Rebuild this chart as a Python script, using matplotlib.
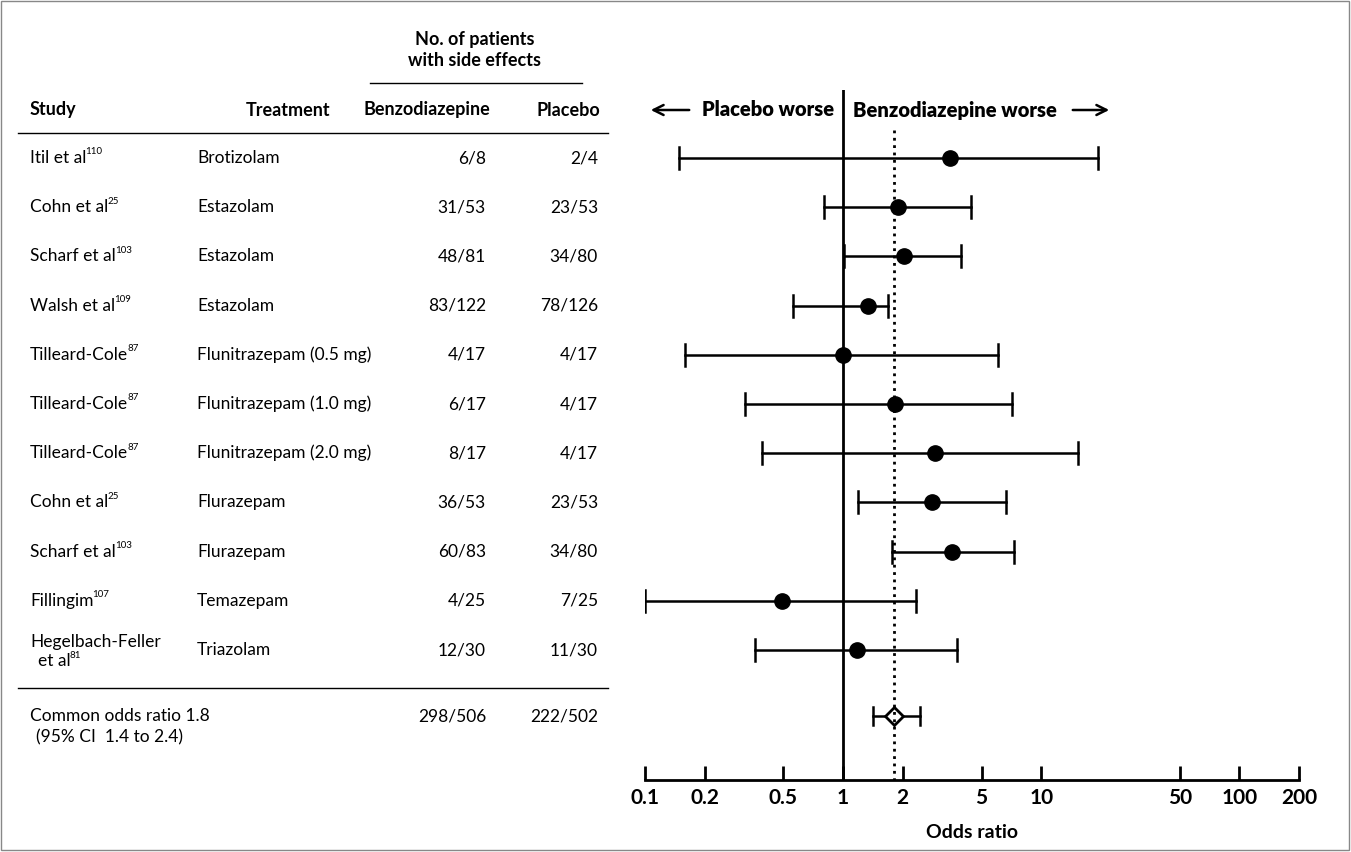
import matplotlib.pyplot as plt
import numpy as np

plt.rcParams['font.family'] = ['Lato', 'DejaVu Sans']

studies = ["Itil et al", "Cohn et al", "Scharf et al", "Walsh et al", "Tilleard-Cole",
           "Tilleard-Cole", "Tilleard-Cole", "Cohn et al", "Scharf et al", "Fillingim",
           "Hegelbach-Feller"]
refs = ["110", "25", "103", "109", "87", "87", "87", "25", "103", "107", "81"]
treatments = ["Brotizolam", "Estazolam", "Estazolam", "Estazolam", "Flunitrazepam (0.5 mg)",
              "Flunitrazepam (1.0 mg)", "Flunitrazepam (2.0 mg)", "Flurazepam", "Flurazepam",
              "Temazepam", "Triazolam"]
benzo = ["6/8", "31/53", "48/81", "83/122", "4/17", "6/17", "8/17", "36/53", "60/83", "4/25", "12/30"]
placebo = ["2/4", "23/53", "34/80", "78/126", "4/17", "4/17", "4/17", "23/53", "34/80", "7/25", "11/30"]
odds = [3.47, 1.90, 2.03, 1.34, 1.0, 1.83, 2.92, 2.81, 3.55, 0.49, 1.18]
lower = [0.149, 0.80, 1.01, 0.56, 0.16, 0.32, 0.39, 1.19, 1.77, 0.10, 0.36]
upper = [19.4, 4.43, 3.93, 1.69, 6.07, 7.14, 15.4, 6.65, 7.3, 2.34, 3.77]
common_or, common_lo, common_hi = 1.8, 1.42, 2.45
ticks = [0.1, 0.2, 0.5, 1, 2, 5, 10, 50, 100, 200]

W, H = 1351, 852
fig = plt.figure(figsize=(W / 100, H / 100), dpi=100)

# full-figure pixel axes for the table
bg = fig.add_axes([0, 0, 1, 1])
bg.set_xlim(0, W)
bg.set_ylim(H, 0)
bg.axis('off')
bg.add_patch(plt.Rectangle((1, 1), W - 3, H - 3, fill=False, ec='#888888', lw=1))

# forest axes: x 645..1299 px, y 90..780 px
x0, x1, yt, yb = 645, 1299, 90, 780
ax = fig.add_axes([x0 / W, 1 - yb / H, (x1 - x0) / W, (yb - yt) / H])
ax.patch.set_visible(False)
ax.set_xscale('log')
ax.set_xlim(0.1, 200)
ax.set_ylim(yb, yt)
for s in ['top', 'right', 'left']:
    ax.spines[s].set_visible(False)
ax.spines['bottom'].set_linewidth(2)
ax.set_yticks([])
ax.set_xticks(ticks)
ax.set_xticklabels([f"{t:g}" for t in ticks], fontsize=15, fontweight='bold')
ax.xaxis.set_minor_locator(plt.NullLocator())
ax.tick_params(axis='x', length=10, width=2, direction='in', pad=6)
bg.text(972, 832, "Odds ratio", fontsize=14, fontweight='bold', ha='center', va='center')

rows = 158 + 49.2 * np.arange(len(studies))
fs = 12.5
fig.canvas.draw()
for i, y in enumerate(rows):
    ax.plot([lower[i], upper[i]], [y, y], color='black', lw=1.8)
    for e in (lower[i], upper[i]):
        ax.plot([e, e], [y - 11, y + 11], color='black', lw=1.8)
    ax.plot(odds[i], y, 'o', color='black', ms=11)
    name = studies[i]
    if name == "Hegelbach-Feller":
        bg.text(30, y - 8, name, fontsize=fs, va='center')
        bg.text(38, y + 11, "et al", fontsize=fs, va='center')
        bg.text(70, y + 5, refs[i], fontsize=7, va='center')
    else:
        t = bg.text(30, y, name, fontsize=fs, va='center')
        bb = t.get_window_extent(renderer=fig.canvas.get_renderer())
        bg.text(bb.x1 - 1, y - 6, refs[i], fontsize=7, va='center')
    bg.text(197, y, treatments[i], fontsize=fs, va='center')
    bg.text(486, y, benzo[i], fontsize=fs, va='center', ha='right')
    bg.text(598, y, placebo[i], fontsize=fs, va='center', ha='right')

yc = 716
ax.plot([common_lo, common_hi], [yc, yc], color='black', lw=1.8)
for e in (common_lo, common_hi):
    ax.plot([e, e], [yc - 9, yc + 9], color='black', lw=1.8)
ax.plot(common_or, yc, 'D', mfc='white', mec='black', mew=2, ms=9)
ax.axvline(1, ymin=0, ymax=1, color='black', lw=2)
ax.plot([common_or, common_or], [130, yb], color='black', lw=2, ls=':')

bg.text(30, yc, "Common odds ratio 1.8", fontsize=fs, va='center')
bg.text(36, yc + 21, "(95% CI  1.4 to 2.4)", fontsize=fs, va='center')
bg.text(486, yc, "298/506", fontsize=fs, va='center', ha='right')
bg.text(598, yc, "222/502", fontsize=fs, va='center', ha='right')

# headers
hb = dict(fontsize=13, fontweight='bold', va='center')
bg.text(475, 40, "No. of patients", ha='center', **hb)
bg.text(475, 60, "with side effects", ha='center', **hb)
bg.plot([370, 582], [83, 83], color='black', lw=1)
bg.text(30, 110, "Study", **hb)
bg.text(330, 110, "Treatment", ha='right', **hb)
bg.text(490, 110, "Benzodiazepine", ha='right', **hb)
bg.text(600, 110, "Placebo", ha='right', **hb)
bg.plot([18, 608], [133, 133], color='black', lw=1)
bg.plot([18, 608], [688, 688], color='black', lw=1)

ah = dict(arrowstyle='->', lw=1.8, color='black', mutation_scale=18)
bg.annotate("", xy=(648, 110), xytext=(692, 110), arrowprops=ah)
bg.text(834, 110, "Placebo worse", ha='right', fontsize=14.5, fontweight='heavy', va='center')
bg.text(853, 110, "Benzodiazepine worse", ha='left', fontsize=14.5, fontweight='heavy', va='center')
bg.annotate("", xy=(1112, 110), xytext=(1070, 110), arrowprops=ah)

fig.savefig("out.png", dpi=100)
